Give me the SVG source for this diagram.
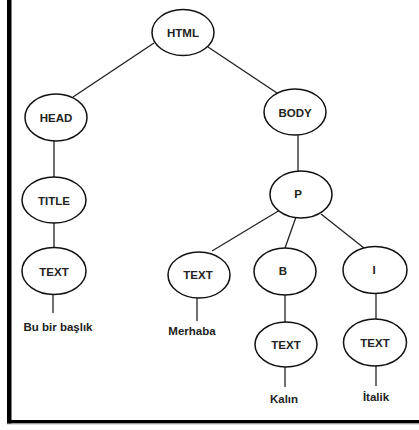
<svg xmlns="http://www.w3.org/2000/svg" width="419" height="430" viewBox="0 0 419 430">
<style>
.n ellipse{fill:#fff;stroke:#111;stroke-width:1.5}
text{font-family:"Liberation Sans",Arial,sans-serif;font-weight:bold;font-size:11.5px;fill:#222;text-anchor:middle}
#edges line{stroke:#222;stroke-width:1.3}
</style>
<rect x="0" y="0" width="419" height="430" fill="#fff"/>
<rect x="7" y="0" width="4.5" height="424" fill="#000"/>
<rect x="7" y="420" width="412" height="3.5" fill="#000"/>
<rect x="7" y="423.5" width="412" height="1" fill="#bbb"/>
<g id="edges">
<line x1="154" y1="43" x2="73" y2="97"/>
<line x1="208" y1="47" x2="277" y2="93"/>
<line x1="54" y1="141" x2="54" y2="177"/>
<line x1="54" y1="223" x2="54" y2="248"/>
<line x1="53" y1="294" x2="53" y2="313"/>
<line x1="298" y1="135" x2="298" y2="171"/>
<line x1="280" y1="210" x2="212" y2="251"/>
<line x1="296" y1="217" x2="285" y2="248"/>
<line x1="321" y1="214" x2="364" y2="248"/>
<line x1="197" y1="298" x2="197" y2="321"/>
<line x1="285" y1="294" x2="285" y2="322"/>
<line x1="376" y1="293" x2="376" y2="319"/>
<line x1="285" y1="367" x2="285" y2="387"/>
<line x1="376" y1="365" x2="376" y2="386"/>
</g>
<g id="html" class="n"><ellipse cx="183" cy="32.5" rx="31" ry="23"/><text x="183" y="37">HTML</text></g>
<g id="head" class="n"><ellipse cx="56" cy="117.5" rx="31" ry="23.5"/><text x="56" y="122">HEAD</text></g>
<g id="body" class="n"><ellipse cx="295" cy="112" rx="31" ry="23"/><text x="295" y="116.5">BODY</text></g>
<g id="title" class="n"><ellipse cx="54" cy="200" rx="32" ry="23"/><text x="54" y="204.5">TITLE</text></g>
<g id="text1" class="n"><ellipse cx="54" cy="271" rx="32" ry="23.5"/><text x="54" y="275.5">TEXT</text></g>
<g id="p" class="n"><ellipse cx="301" cy="194.5" rx="31" ry="23.5"/><text x="298" y="198">P</text></g>
<g id="text2" class="n"><ellipse cx="199" cy="275" rx="31" ry="23"/><text x="198" y="279">TEXT</text></g>
<g id="b" class="n"><ellipse cx="285" cy="271.5" rx="31" ry="23.5"/><text x="283" y="275">B</text></g>
<g id="i" class="n"><ellipse cx="375" cy="270" rx="32" ry="23.5"/><text x="374" y="274">I</text></g>
<g id="text3" class="n"><ellipse cx="286" cy="344.5" rx="31" ry="22.5"/><text x="286" y="349">TEXT</text></g>
<g id="text4" class="n"><ellipse cx="375" cy="342.5" rx="31.5" ry="23.5"/><text x="375" y="347">TEXT</text></g>
<g id="labels">
<text x="58" y="331">Bu bir başlık</text>
<text x="192" y="335">Merhaba</text>
<text x="284" y="403">Kalın</text>
<text x="376" y="401">İtalik</text>
</g>
</svg>
